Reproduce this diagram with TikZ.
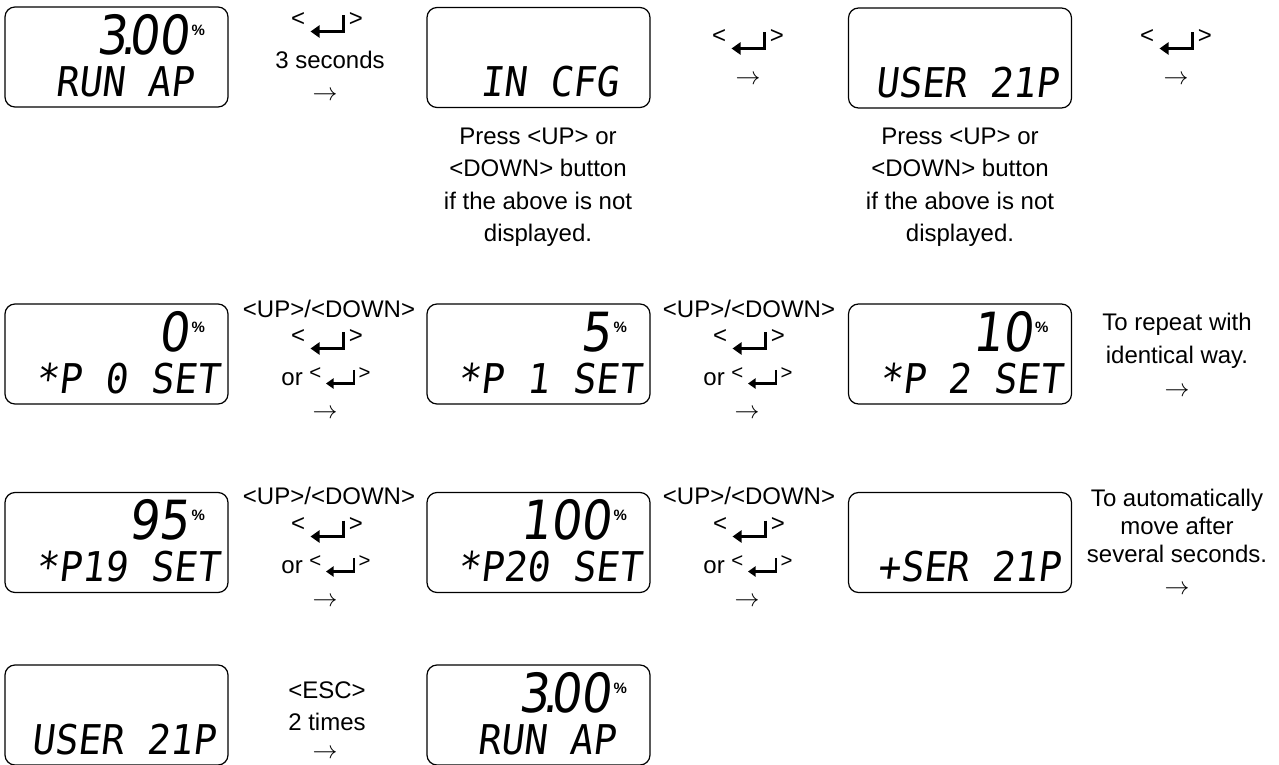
\documentclass[tikz,border=0pt]{standalone}
\usepackage{fontspec}
\setmainfont{Liberation Sans}
\newfontfamily\lcdfont[FakeSlant=0.12,FakeStretch=0.93]{DejaVu Sans Mono}
\newfontfamily\lcdbigfont[FakeSlant=0.12,FakeStretch=0.88]{DejaVu Sans}
\usetikzlibrary{arrows.meta}
\newcommand\ent{\tikz[x=1pt,y=1pt,baseline={(0,-5)}]{\draw[line width=2.8pt,-{Triangle[length=9pt,width=12pt]}] (33,16) -- (33,0) -- (0,0);}}
\newcommand\enkey{<\,\ent\,>}
\tikzset{
  lcd/.style={draw, line width=1.2pt, rounded corners=10pt, minimum width=223pt, minimum height=100pt, inner sep=0pt},
  lbl/.style={font=\fontsize{24}{28}\selectfont, inner sep=0pt, anchor=center},
  arrowlbl/.style={font=\fontsize{27}{28}\selectfont, inner sep=0pt, anchor=center},
  multi/.style={font=\fontsize{24}{#1}\selectfont, inner sep=0pt, align=center, anchor=center},
  lcdtxt/.style={font=\lcdfont\fontsize{41}{41}\selectfont, inner sep=0pt, anchor=base west},
  lcdbig/.style={font=\lcdbigfont\fontsize{54}{54}\selectfont, inner sep=0pt, anchor=base east},
  pct/.style={font=\bfseries\fontsize{15}{15}\selectfont, inner sep=0pt, anchor=base west},
}
\begin{document}
\begin{tikzpicture}[x=1pt,y=-1pt]
\useasboundingbox (0,0) rectangle (1279,765);
% ---------- row 1
\node[lcd] (b1) at (116.5,57) {};
\node[lcdbig] (b1d) at ([shift={(185,48)}]b1.north west) {3\kern-0.12em.\kern-0.12em00};
\node[pct] (b1p) at ([shift={(187,29)}]b1.north west) {\%};
\node[lcdtxt] (b1t) at ([shift={(51,90)}]b1.north west) {RUN AP};

\node[lbl] (t1a) at (327,25) {\enkey};
\node[lbl] (t1b) at (330,60) {3 seconds};
\node[arrowlbl] (t1c) at (325,96) {$\rightarrow$};

\node[lcd] (b2) at (538.5,57.5) {};
\node[lcdtxt] (b2t) at ([shift={(54,90)}]b2.north west) {IN CFG};
\node[multi=32.5] (p1) at (538,187) {Press <UP> or\\<DOWN> button\\if the above is not\\displayed.};

\node[lbl] (t2a) at (748,42) {\enkey};
\node[arrowlbl] (t2c) at (748,80) {$\rightarrow$};

\node[lcd] (b3) at (960,58) {};
\node[lcdtxt] (b3t) at ([shift={(27,90)}]b3.north west) {USER 21P};
\node[multi=32.5] (p2) at (960,187) {Press <UP> or\\<DOWN> button\\if the above is not\\displayed.};

\node[lbl] (t3a) at (1176,42) {\enkey};
\node[arrowlbl] (t3c) at (1176,80) {$\rightarrow$};

% ---------- row 2
\node[lcd] (c1) at (116.5,354) {};
\node[lcdbig] (c1d) at ([shift={(185,48)}]c1.north west) {0};
\node[pct] (c1p) at ([shift={(187,29)}]c1.north west) {\%};
\node[lcdtxt] (c1t) at ([shift={(31,90)}]c1.north west) {*P 0 SET};

\node[lbl] (u1a) at (329,309) {<UP>/<DOWN>};
\node[lbl] (u1b) at (327,342) {\enkey};
\node[lbl] (u1c) at (326,378) {or \raisebox{6pt}{\scalebox{0.85}{\enkey}}};
\node[arrowlbl] (u1d) at (325,414) {$\rightarrow$};

\node[lcd] (c2) at (538.5,354) {};
\node[lcdbig] (c2d) at ([shift={(185,48)}]c2.north west) {5};
\node[pct] (c2p) at ([shift={(187,29)}]c2.north west) {\%};
\node[lcdtxt] (c2t) at ([shift={(31,90)}]c2.north west) {*P 1 SET};

\node[lbl] (u2a) at (749,309) {<UP>/<DOWN>};
\node[lbl] (u2b) at (749,342) {\enkey};
\node[lbl] (u2c) at (748,378) {or \raisebox{6pt}{\scalebox{0.85}{\enkey}}};
\node[arrowlbl] (u2d) at (747,414) {$\rightarrow$};

\node[lcd] (c3) at (960,354) {};
\node[lcdbig] (c3d) at ([shift={(185,48)}]c3.north west) {10};
\node[pct] (c3p) at ([shift={(187,29)}]c3.north west) {\%};
\node[lcdtxt] (c3t) at ([shift={(31,90)}]c3.north west) {*P 2 SET};

\node[multi=33] (r1) at (1177,341) {To repeat with\\identical way.};
\node[arrowlbl] (r1a) at (1177,392) {$\rightarrow$};

% ---------- row 3
\node[lcd] (d1) at (116.5,542.5) {};
\node[lcdbig] (d1d) at ([shift={(185,48)}]d1.north west) {95};
\node[pct] (d1p) at ([shift={(187,29)}]d1.north west) {\%};
\node[lcdtxt] (d1t) at ([shift={(31,90)}]d1.north west) {*P19 SET};

\node[lbl] (v1a) at (329,496) {<UP>/<DOWN>};
\node[lbl] (v1b) at (327,530) {\enkey};
\node[lbl] (v1c) at (326,566) {or \raisebox{6pt}{\scalebox{0.85}{\enkey}}};
\node[arrowlbl] (v1d) at (325,602) {$\rightarrow$};

\node[lcd] (d2) at (538.5,542.5) {};
\node[lcdbig] (d2d) at ([shift={(185,48)}]d2.north west) {100};
\node[pct] (d2p) at ([shift={(187,29)}]d2.north west) {\%};
\node[lcdtxt] (d2t) at ([shift={(31,90)}]d2.north west) {*P20 SET};

\node[lbl] (v2a) at (749,496) {<UP>/<DOWN>};
\node[lbl] (v2b) at (749,530) {\enkey};
\node[lbl] (v2c) at (748,566) {or \raisebox{6pt}{\scalebox{0.85}{\enkey}}};
\node[arrowlbl] (v2d) at (747,602) {$\rightarrow$};

\node[lcd] (d3) at (960,542.5) {};
\node[lcdtxt] (d3t) at ([shift={(29,90)}]d3.north west) {+SER 21P};

\node[multi=28] (r2) at (1177,526) {To automatically\\move after\\several seconds.};
\node[arrowlbl] (r2a) at (1177,590) {$\rightarrow$};

% ---------- row 4
\node[lcd] (e1) at (116.5,715) {};
\node[lcdtxt] (e1t) at ([shift={(27,90)}]e1.north west) {USER 21P};

\node[lbl] (w1a) at (327,690) {<ESC>};
\node[lbl] (w1b) at (327,722) {2 times};
\node[arrowlbl] (w1c) at (325,754) {$\rightarrow$};

\node[lcd] (e2) at (538.5,715) {};
\node[lcdbig] (e2d) at ([shift={(185,48)}]e2.north west) {3\kern-0.12em.\kern-0.12em00};
\node[pct] (e2p) at ([shift={(187,29)}]e2.north west) {\%};
\node[lcdtxt] (e2t) at ([shift={(51,90)}]e2.north west) {RUN AP};
\end{tikzpicture}
\end{document}
